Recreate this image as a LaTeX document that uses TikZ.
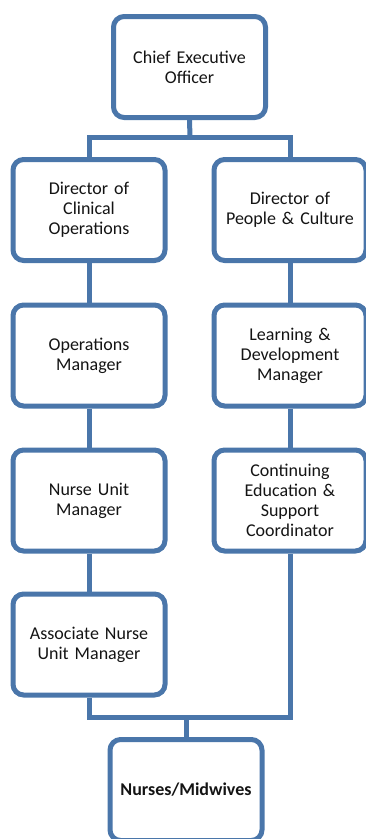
\documentclass[tikz,border=0pt]{standalone}
\usepackage{fontspec}
\setmainfont{Carlito}
\definecolor{boxblue}{RGB}{74,118,170}
\definecolor{txt}{RGB}{20,20,20}
\begin{document}
\begin{tikzpicture}[x=0.75pt,y=-0.75pt,
  orgbox/.style={draw=boxblue, fill=white, line width=3.75pt, rounded corners=8pt,
    minimum width=114pt, minimum height=75.75pt, inner sep=0pt, align=center,
    text=txt, font=\fontsize{13.5pt}{15pt}\selectfont, text width=108pt},
  conn/.style={draw=boxblue, line width=3.75pt}]
\useasboundingbox (0,0) rectangle (366,839);
\clip (0,0) rectangle (366,839);
% connector junctions
\coordinate (top) at (190,137);
\coordinate (tl) at (89,137);
\coordinate (tr) at (290,137);
\coordinate (bl) at (89,717);
\coordinate (br) at (290,717);
\coordinate (bm) at (186,717);
\node[orgbox] (ceo) at (189.5,67) {Chief Executive\\Officer};
\node[orgbox] (l1) at (89,210) {Director of\\Clinical\\Operations};
\node[orgbox] (l2) at (89,355.5) {Operations\\Manager};
\node[orgbox] (l3) at (89,500.5) {Nurse Unit\\Manager};
\node[orgbox] (l4) at (89,644.5) {Associate Nurse\\Unit Manager};
\node[orgbox] (r1) at (290,210) {Director of\\People \& Culture};
\node[orgbox] (r2) at (290,355.5) {Learning \&\\Development\\Manager};
\node[orgbox] (r3) at (290,500.5) {Continuing\\Education \&\\Support\\Coordinator};
\node[orgbox, font=\fontsize{13.5pt}{15pt}\selectfont\bfseries] (nm) at (186,790) {Nurses/Midwives};
\draw[conn] (ceo.south) -- (top);
\draw[conn, line cap=rect] (tl) -- (tr);
\draw[conn] (tl) -- (l1.north);
\draw[conn] (tr) -- (r1.north);
\draw[conn] (l1.south) -- (l2.north);
\draw[conn] (l2.south) -- (l3.north);
\draw[conn] (l3.south) -- (l4.north);
\draw[conn] (r1.south) -- (r2.north);
\draw[conn] (r2.south) -- (r3.north);
\draw[conn, line join=miter] (l4.south) -- (bl) -- (br) -- (r3.south);
\draw[conn] (bm) -- (nm.north);
\end{tikzpicture}
\end{document}
